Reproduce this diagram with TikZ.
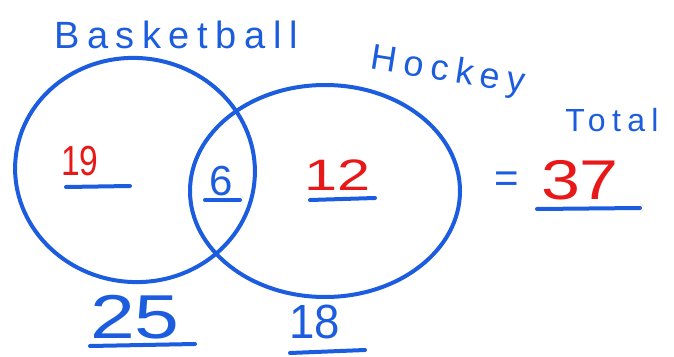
\documentclass[tikz,border=0pt]{standalone}
\usepackage{fontspec}
\usetikzlibrary{shapes.geometric}
\newfontfamily\handfont[LetterSpace=20]{Liberation Sans}
\newfontfamily\numfont{Liberation Sans}
\definecolor{penblue}{RGB}{28,92,222}
\definecolor{penred}{RGB}{232,24,24}
\tikzset{
  ring/.style={draw=penblue, line width=4pt, ellipse, inner sep=0pt},
  word/.style={text=penblue, inner sep=0pt, font=\handfont\fontsize{#1}{#1}\selectfont},
  rednum/.style={text=penred, inner sep=0pt, font=\numfont\fontsize{#1}{#1}\selectfont},
  bluenum/.style={text=penblue, inner sep=0pt, font=\numfont\fontsize{#1}{#1}\selectfont},
  uline/.style={draw=penblue, line width=4pt, line cap=round}
}
\begin{document}
\begin{tikzpicture}[x=1pt,y=-1pt]
\useasboundingbox (0,0) rectangle (674,356);
% circles
\node[ring, minimum width=240pt, minimum height=224pt, rotate=-6] (bball) at (135,170) {};
\node[ring, minimum width=270pt, minimum height=212pt] (hockey) at (325,191) {};
% labels
\node[word=38] (lbB) at (176,35) {Basketball};
\node[word=36, rotate=-9] (lbH) at (448,72) {Hockey};
\node[word=32] (lbT) at (612,120) {Total};
% numbers
\node[rednum=42, xscale=0.8] (n19) at (80,161) {19};
\node[bluenum=42] (n6) at (221,181) {6};
\node[rednum=44, xscale=1.35] (n12) at (338,175) {12};
\node[bluenum=42] (eq) at (507,182) {=};
\node[rednum=56, xscale=1.25] (n37) at (580,180) {37};
\node[bluenum=62, xscale=1.3] (n25) at (135,317) {25};
\node[bluenum=48, xscale=0.95] (n18) at (315,322) {18};
% underlines
\draw[uline] (66,187) -- (130,186);
\draw[uline] (205,200) -- (240,200);
\draw[uline] (310,200) -- (375,198);
\draw[uline] (537,209) -- (640,208);
\draw[uline] (90,346) -- (195,344);
\draw[uline] (290,353) -- (365,350);
\end{tikzpicture}
\end{document}
